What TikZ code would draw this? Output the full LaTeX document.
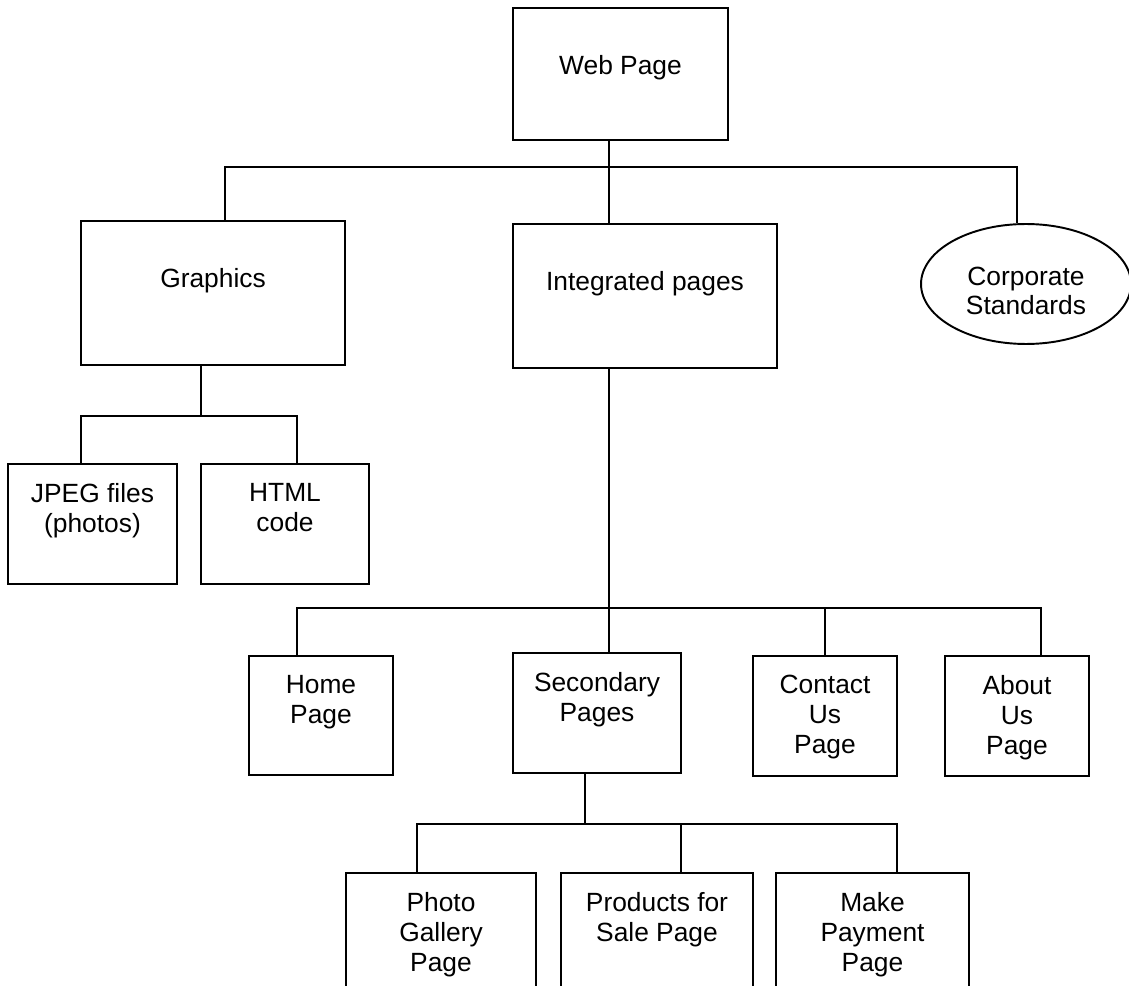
\documentclass[tikz,border=0pt]{standalone}
\usepackage{fontspec}
\setmainfont{Liberation Sans}
\usetikzlibrary{shapes.geometric}
\newcommand{\boxtext}[4]{\parbox[c][#2][t]{#1}{\centering\vspace*{#3}#4\par}}
\tikzset{pagebox/.style={draw, inner sep=0pt},
	corpbox/.style={draw, ellipse, inner sep=0pt, minimum width=4.2cm, minimum height=2.4cm}}

\begin{document}
\begin{tikzpicture}[x=0.02cm, y=-0.02cm, line width=1.1pt, font=\fontsize{15pt}{17.07pt}\selectfont]
	\useasboundingbox (0,0) rectangle (1129,986);
	\clip (0,0) rectangle (1129,986);
	\node[pagebox] (web) at (620.5,74) {\boxtext{4.3cm}{2.64cm}{0.94cm}{Web Page}};
	\node[pagebox] (graph) at (213,293) {\boxtext{5.28cm}{2.88cm}{0.94cm}{Graphics}};
	\node[pagebox] (integ) at (645,296) {\boxtext{5.28cm}{2.88cm}{0.94cm}{Integrated pages}};
	\node[corpbox] (corp) at (1026,284) {\begin{tabular}{@{}c@{}}\rule{0pt}{0.82cm}Corporate\\Standards\end{tabular}};
	\node[pagebox] (jpeg) at (92.5,524) {\boxtext{3.38cm}{2.4cm}{0.38cm}{JPEG files\\(photos)}};
	\node[pagebox] (html) at (285,524) {\boxtext{3.36cm}{2.4cm}{0.38cm}{HTML\\code}};
	\node[pagebox] (home) at (321,715.5) {\boxtext{2.88cm}{2.38cm}{0.38cm}{Home\\Page}};
	\node[pagebox] (second) at (597,713) {\boxtext{3.36cm}{2.4cm}{0.38cm}{Secondary\\Pages}};
	\node[pagebox] (contact) at (825,716) {\boxtext{2.88cm}{2.4cm}{0.38cm}{Contact\\Us\\Page}};
	\node[pagebox] (about) at (1017,716) {\boxtext{2.88cm}{2.4cm}{0.38cm}{About\\Us\\Page}};
	\node[pagebox] (photo) at (441,973) {\boxtext{3.8cm}{4cm}{0.38cm}{Photo\\Gallery\\Page}};
	\node[pagebox] (products) at (657,973) {\boxtext{3.84cm}{4cm}{0.38cm}{Products for\\Sale Page}};
	\node[pagebox] (payment) at (872.5,973) {\boxtext{3.86cm}{4cm}{0.38cm}{Make\\Payment\\Page}};
	\coordinate (top) at (609,167);
	\coordinate (topl) at (225,167);
	\coordinate (topr) at (1017,167);
	\draw (web.south -| top) -- (integ.north -| top);
	\draw (graph.north -| topl) -- (topl) -- (topr) -- (corp.north -| topr);
	\coordinate (gfx) at (201,416);
	\coordinate (gfxl) at (81,416);
	\coordinate (gfxr) at (297,416);
	\draw (graph.south -| gfx) -- (gfx);
	\draw (jpeg.north -| gfxl) -- (gfxl) -- (gfxr) -- (html.north -| gfxr);
	\coordinate (mid) at (609,608);
	\coordinate (midl) at (297,608);
	\coordinate (midc) at (825,608);
	\coordinate (midr) at (1041,608);
	\draw (integ.south -| mid) -- (second.north -| mid);
	\draw (home.north -| midl) -- (midl) -- (midr) -- (about.north -| midr);
	\draw (midc) -- (contact.north -| midc);
	\coordinate (low) at (585,824);
	\coordinate (lowl) at (417,824);
	\coordinate (lowc) at (681,824);
	\coordinate (lowr) at (897,824);
	\draw (second.south -| low) -- (low);
	\draw (photo.north -| lowl) -- (lowl) -- (lowr) -- (payment.north -| lowr);
	\draw (lowc) -- (products.north -| lowc);
\end{tikzpicture}
\end{document}
